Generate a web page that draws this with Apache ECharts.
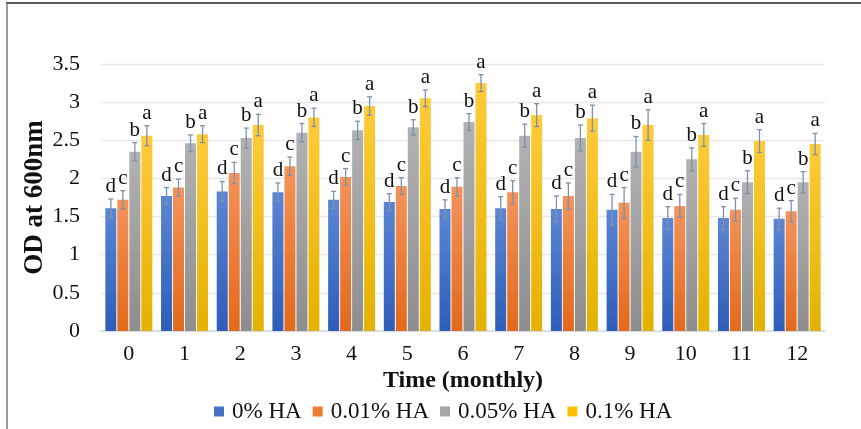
<!DOCTYPE html>
<html>
<head>
<meta charset="utf-8">
<script src="https://cdn.jsdelivr.net/npm/echarts@6/dist/echarts.min.js"></script>
<style>
  html, body { margin: 0; padding: 0; background: #fff; }
  #chart { width: 861px; height: 429px; }
</style>
</head>
<body>
<div id="chart"></div>
<script>
// Months of storage
var months = ['0', '1', '2', '3', '4', '5', '6', '7', '8', '9', '10', '11', '12'];

// Mean OD at 600 nm for each HA concentration
var ha0   = [1.61, 1.77, 1.83, 1.82, 1.72, 1.69, 1.60, 1.61, 1.60, 1.59, 1.48, 1.48, 1.47];
var ha001 = [1.72, 1.88, 2.07, 2.16, 2.02, 1.90, 1.89, 1.82, 1.77, 1.68, 1.64, 1.59, 1.57];
var ha005 = [2.35, 2.46, 2.53, 2.60, 2.63, 2.67, 2.74, 2.56, 2.53, 2.35, 2.25, 1.95, 1.95];
var ha01  = [2.56, 2.58, 2.70, 2.80, 2.95, 3.05, 3.25, 2.83, 2.79, 2.70, 2.57, 2.49, 2.45];

// Standard deviations
var err0   = [0.12, 0.11, 0.13, 0.12, 0.11, 0.11, 0.12, 0.15, 0.17, 0.20, 0.15, 0.15, 0.14];
var err001 = [0.12, 0.11, 0.14, 0.12, 0.11, 0.11, 0.12, 0.15, 0.17, 0.20, 0.15, 0.15, 0.14];
var err005 = [0.12, 0.11, 0.13, 0.12, 0.12, 0.10, 0.11, 0.15, 0.17, 0.20, 0.15, 0.15, 0.14];
var err01  = [0.13, 0.11, 0.14, 0.12, 0.12, 0.11, 0.11, 0.15, 0.17, 0.20, 0.15, 0.15, 0.14];

// Significance letters
var sig0   = ['d','d','d','d','d','d','d','d','d','d','d','d','d'];
var sig001 = ['c','c','c','c','c','c','c','c','c','c','c','c','c'];
var sig005 = ['b','b','b','b','b','b','b','b','b','b','b','b','b'];
var sig01  = ['a','a','a','a','a','a','a','a','a','a','a','a','a'];

// Y axis ticks
var yMin = 0, yMax = 3.5, yStep = 0.5;

var seriesNames = ['0% HA', '0.01% HA', '0.05% HA', '0.1% HA'];
var values = [ha0, ha001, ha005, ha01];
var errors = [err0, err001, err005, err01];
var letters = [sig0, sig001, sig005, sig01];
var gradients = [
  ['#5c86d4', '#2e5db9'],
  ['#f4935a', '#e3691b'],
  ['#b2b2b2', '#8d8d8d'],
  ['#ffcb3a', '#e3b100']
];
var legendColors = ['#4472c4', '#ed7d31', '#a5a5a5', '#ffc000'];

var FONT = '"Liberation Serif", "Times New Roman", serif';
var BAR_W = 11;
var BAR_GAP_PX = 1;
var nSeries = 4;
var groupW = nSeries * BAR_W + (nSeries - 1) * BAR_GAP_PX;

function grad(c) {
  return new echarts.graphic.LinearGradient(0, 0, 0, 1, [
    { offset: 0, color: c[0] },
    { offset: 1, color: c[1] }
  ]);
}

var series = [];
values.forEach(function (vals, k) {
  series.push({
    name: seriesNames[k],
    type: 'bar',
    data: vals,
    barWidth: BAR_W,
    barGap: (BAR_GAP_PX / BAR_W * 100) + '%',
    itemStyle: { color: grad(gradients[k]) },
    color: legendColors[k]
  });
});

// Error bars with their significance letters
values.forEach(function (vals, k) {
  var offset = -groupW / 2 + k * (BAR_W + BAR_GAP_PX) + BAR_W / 2;
  series.push({
    type: 'custom',
    name: 'err' + k,
    data: vals.map(function (v, i) { return [i, v, errors[k][i]]; }),
    z: 5,
    silent: true,
    renderItem: function (params, api) {
      var i = api.value(0), v = api.value(1), e = api.value(2);
      var top = api.coord([i, v + e]);
      var bot = api.coord([i, v - e]);
      var x = top[0] + offset;
      var cap = 2.5;
      var style = { stroke: '#7d91ab', lineWidth: 1.3 };
      return {
        type: 'group',
        children: [
          { type: 'line', shape: { x1: x, y1: top[1], x2: x, y2: bot[1] }, style: style },
          { type: 'line', shape: { x1: x - cap, y1: top[1], x2: x + cap, y2: top[1] }, style: style },
          { type: 'line', shape: { x1: x - cap, y1: bot[1], x2: x + cap, y2: bot[1] }, style: style },
          {
            type: 'text',
            x: x, y: top[1] - 2,
            style: {
              text: letters[k][params.dataIndex],
              fill: '#111',
              font: '21px ' + FONT,
              align: 'center',
              verticalAlign: 'bottom'
            }
          }
        ]
      };
    }
  });
});

var chart = echarts.init(document.getElementById('chart'), null, { renderer: 'canvas' });
chart.setOption({
  animation: false,
  backgroundColor: '#fff',
  grid: { left: 101, right: 36, top: 64, bottom: 98, containLabel: false },
  legend: {
    data: seriesNames.map(function (n, k) {
      return { name: n, itemStyle: { color: legendColors[k] } };
    }),
    left: 209,
    top: 395,
    itemWidth: 10,
    itemHeight: 10,
    itemGap: 11,
    icon: 'rect',
    textStyle: { fontFamily: FONT, fontSize: 23, color: '#111', padding: [0, 0, 0, 3] }
  },
  xAxis: {
    type: 'category',
    data: months,
    name: 'Time (monthly)',
    nameLocation: 'middle',
    nameGap: 38,
    nameMoveOverlap: false,
    nameTextStyle: { fontFamily: FONT, fontSize: 24, fontWeight: 'bold', color: '#111' },
    axisLine: { lineStyle: { color: '#d4d9e2', width: 1.5 } },
    axisTick: { show: false },
    axisLabel: { fontFamily: FONT, fontSize: 22, color: '#111', margin: 12 }
  },
  yAxis: {
    type: 'value',
    min: yMin, max: yMax, interval: yStep,
    name: 'OD at 600nm',
    nameLocation: 'middle',
    nameGap: 52,
    nameMoveOverlap: false,
    nameRotate: 90,
    nameTextStyle: { fontFamily: FONT, fontSize: 27, fontWeight: 'bold', color: '#111' },
    axisLine: { show: false },
    axisTick: { show: false },
    splitLine: { lineStyle: { color: '#e6e8ec', width: 1.3 } },
    axisLabel: { fontFamily: FONT, fontSize: 22, color: '#111', margin: 21 }
  },
  series: series,
  graphic: [
    { type: 'line', shape: { x1: 6, y1: 3, x2: 861, y2: 3 }, style: { stroke: '#222', lineWidth: 1.5 } },
    { type: 'line', shape: { x1: 7, y1: 3, x2: 7, y2: 429 }, style: { stroke: '#7a7a7a', lineWidth: 1.5 } }
  ]
});
</script>
</body>
</html>
